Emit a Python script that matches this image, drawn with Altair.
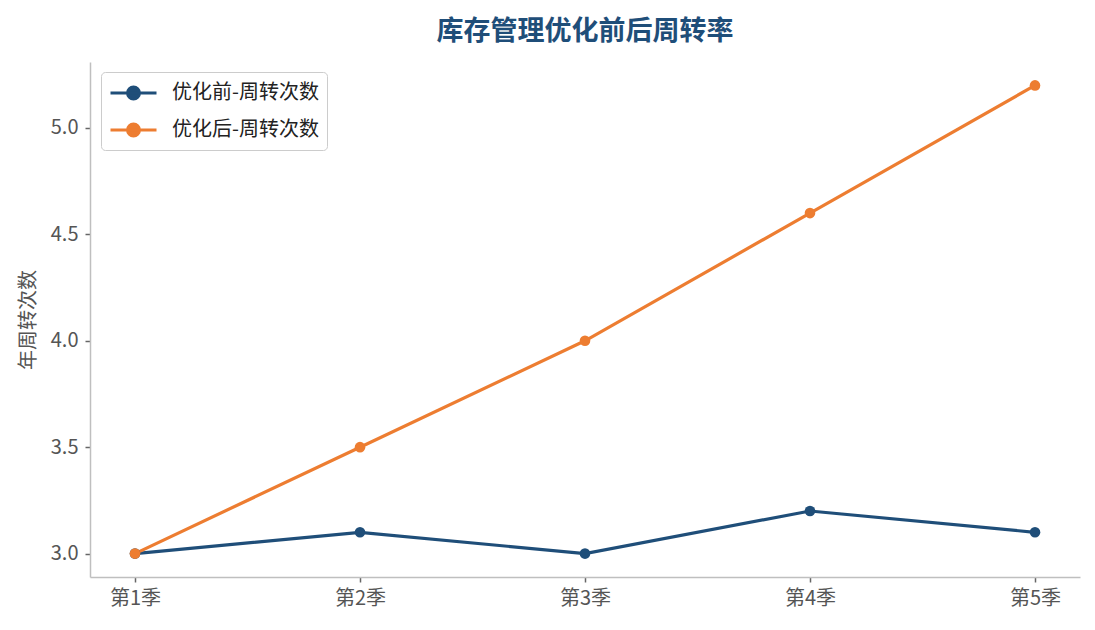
import pandas as pd
import altair as alt

quarters = ["第1季", "第2季", "第3季", "第4季", "第5季"]
before = [3.0, 3.1, 3.0, 3.2, 3.1]
after = [3.0, 3.5, 4.0, 4.6, 5.2]
series = ["优化前-周转次数", "优化后-周转次数"]
colors = ["#1f4e79", "#ed7d31"]

df = pd.DataFrame({
    "quarter": quarters * 2,
    "value": before + after,
    "series": [series[0]] * 5 + [series[1]] * 5,
})

FONT = "Noto Sans CJK SC"
# line with a dot in the middle, for the legend (runs past the unit box to the right)
sym = "M-1,0H3M1.52,0A0.52,0.52,0,1,1,0.48,0A0.52,0.52,0,1,1,1.52,0Z"

chart = alt.Chart(df).mark_line(
    strokeWidth=3.2,
    point=alt.OverlayMarkDef(filled=True, size=113, opacity=1),
).encode(
    x=alt.X("quarter:O", sort=quarters, title=None,
            scale=alt.Scale(padding=0.2),
            axis=alt.Axis(labelAngle=0)),
    y=alt.Y("value:Q", title="年周转次数",
            scale=alt.Scale(domain=[2.89, 5.31], nice=False, zero=False),
            axis=alt.Axis(values=[3.0, 3.5, 4.0, 4.5, 5.0], format=".1f", grid=False)),
    color=alt.Color("series:N", sort=series,
                    scale=alt.Scale(domain=series, range=colors),
                    legend=alt.Legend(title=None, orient="none", legendX=11, legendY=10,
                                      symbolType=sym, symbolSize=529, symbolStrokeWidth=3,
                                      labelFontSize=20, labelColor="#222", labelFont=FONT,
                                      labelOffset=37, rowPadding=12, padding=8,
                                      fillColor="white", strokeColor="#cccccc",
                                      cornerRadius=4)),
).properties(
    width=990,
    height=515,
    title=alt.TitleParams("库存管理优化前后周转率", fontSize=27, font=FONT,
                          fontWeight="bold", color="#1f4e79", offset=16),
    autosize=alt.AutoSizeParams(type="none"),
    padding={"left": 82, "top": 54, "right": 5, "bottom": 45},
).configure_view(
    stroke=None
).configure_axis(
    domainColor="#bfbfbf", domainWidth=1.5,
    tickColor="#666", tickSize=5, tickWidth=1.5,
    labelColor="#555", labelFontSize=20, labelFont=FONT,
    titleColor="#555", titleFontSize=20, titleFont=FONT, titleFontWeight="normal",
).configure_axisY(
    labelPadding=7, titlePadding=12
).configure_axisX(
    labelPadding=6
)

chart.save("out.html", embed_options={"renderer": "svg", "actions": False})
